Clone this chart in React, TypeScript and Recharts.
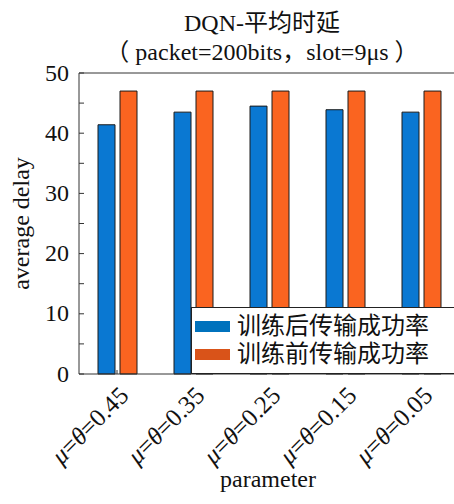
import React from 'react';
import { ComposedChart, Bar, Line, XAxis, YAxis, Legend } from 'recharts';

const categories = ['0.45', '0.35', '0.25', '0.15', '0.05'];
const afterTraining = [41.4, 43.5, 44.5, 43.9, 43.5];
const beforeTraining = [47, 47, 47, 47, 47];
const seriesNames = ['训练后传输成功率', '训练前传输成功率'];
const yTicks = [0, 5, 10, 15, 20, 25, 30, 35, 40, 45, 50];
const titleLines = ['DQN-平均时延', '（ packet=200bits，slot=9μs ）'];
const xLabel = 'parameter';
const yLabel = 'average delay';

const barColors = ['#0A78D2', '#FA6420'];
const legendColors = ['#0072BD', '#D95319'];
const SERIF = "'Liberation Serif', 'Times New Roman', 'Noto Sans CJK SC', serif";
const AXIS = '#333';

const rows = categories.map((c, i) => ({
  cat: c,
  after: afterTraining[i],
  before: beforeTraining[i],
}));

const renderYTick = (props: any) => {
  const { x, y, payload } = props;
  if (payload.value % 10 !== 0) return <g />;
  return (
    <text x={x} y={y} dy="0.32em" textAnchor="end" fontSize={24} fontFamily={SERIF} fill="#111">
      {payload.value}
    </text>
  );
};

const renderXTick = (props: any) => {
  const { x, y, payload } = props;
  const tx = x + 13;
  const ty = y + 23;
  return (
    <text
      x={tx}
      y={ty}
      transform={`rotate(-45, ${tx}, ${ty})`}
      textAnchor="end"
      fontSize={25}
      fontFamily={SERIF}
      fill="#111"
    >
      <tspan fontStyle="italic">μ</tspan>=<tspan fontStyle="italic">θ</tspan>={payload.value}
    </text>
  );
};

const renderTitle = (props: any) => {
  const vb = props.viewBox;
  const cx = vb.x + vb.width / 2 - 7;
  return (
    <g>
      <text x={cx} y={31} textAnchor="middle" fontSize={24} fontFamily={SERIF} fill="#111">
        {titleLines[0]}
      </text>
      <text x={cx} y={60} textAnchor="middle" fontSize={24} fontFamily={SERIF} fill="#111">
        {titleLines[1]}
      </text>
    </g>
  );
};

const renderXLabel = (props: any) => {
  const vb = props.viewBox;
  return (
    <text x={vb.x + vb.width / 2 - 1} y={487} textAnchor="middle" fontSize={24} fontFamily={SERIF} fill="#111">
      {xLabel}
    </text>
  );
};

const renderYLabel = (props: any) => {
  const vb = props.viewBox;
  const cx = 29;
  const cy = vb.y + vb.height / 2;
  return (
    <text x={cx} y={cy} transform={`rotate(-90, ${cx}, ${cy})`} textAnchor="middle" fontSize={24} fontFamily={SERIF} fill="#111">
      {yLabel}
    </text>
  );
};

const renderLegend = () => (
  <div
    style={{
      boxSizing: 'border-box',
      width: 270,
      height: 67,
      border: '1px solid #222',
      background: '#fff',
      paddingTop: 4,
      display: 'flex',
    }}
  >
    <div style={{ marginLeft: 3 }}>
      {seriesNames.map((n, i) => (
        <div key={n} style={{ height: 28, display: 'flex', alignItems: 'center' }}>
          <div style={{ width: 35, height: 11, background: legendColors[i] }} />
        </div>
      ))}
    </div>
    <div style={{ marginLeft: 7, fontSize: 24, lineHeight: '28px', fontFamily: SERIF, color: '#111', whiteSpace: 'nowrap' }}>
      {seriesNames[0]}
      <br />
      {seriesNames[1]}
    </div>
  </div>
);

export default function App() {
  return (
    <div style={{ position: 'absolute', left: 0, top: 0, width: 454, height: 504, overflow: 'hidden', background: '#fff' }}>
      <ComposedChart width={460} height={504} data={rows} margin={{ top: 72, right: 0, bottom: 0, left: 0 }} barGap={5}>
        <XAxis
          xAxisId="bottom"
          dataKey="cat"
          height={130}
          interval={0}
          tickSize={-4}
          tickMargin={4}
          tick={renderXTick}
          stroke={AXIS}
          label={renderXLabel}
        />
        <XAxis
          xAxisId="top"
          orientation="top"
          dataKey="cat"
          height={1}
          interval={0}
          tickSize={-5}
          tick={false}
          stroke={AXIS}
          label={renderTitle}
        />
        <YAxis
          yAxisId="left"
          width={79}
          domain={[0, 50]}
          ticks={yTicks}
          interval={0}
          tickSize={-5}
          tickMargin={15}
          tick={renderYTick}
          stroke={AXIS}
          label={renderYLabel}
        />
        <YAxis
          yAxisId="right"
          orientation="right"
          width={1}
          domain={[0, 50]}
          ticks={yTicks}
          interval={0}
          tickSize={-5}
          tick={false}
          stroke={AXIS}
        />
        <Bar
          xAxisId="bottom"
          yAxisId="left"
          dataKey="after"
          name={seriesNames[0]}
          fill={barColors[0]}
          stroke="#1a1a1a"
          strokeWidth={1}
          barSize={17}
          isAnimationActive={false}
        />
        <Bar
          xAxisId="bottom"
          yAxisId="left"
          dataKey="before"
          name={seriesNames[1]}
          fill={barColors[1]}
          stroke="#1a1a1a"
          strokeWidth={1}
          barSize={17}
          isAnimationActive={false}
        />
        <Line
          xAxisId="top"
          yAxisId="left"
          dataKey="before"
          stroke="none"
          dot={false}
          activeDot={false}
          legendType="none"
          isAnimationActive={false}
        />
        <Line
          xAxisId="bottom"
          yAxisId="right"
          dataKey="before"
          stroke="none"
          dot={false}
          activeDot={false}
          legendType="none"
          isAnimationActive={false}
        />
        <Legend
          layout="vertical"
          align="center"
          verticalAlign="middle"
          wrapperStyle={{ left: 191, top: 307, width: 270, height: 67 }}
          content={renderLegend}
        />
      </ComposedChart>
    </div>
  );
}
